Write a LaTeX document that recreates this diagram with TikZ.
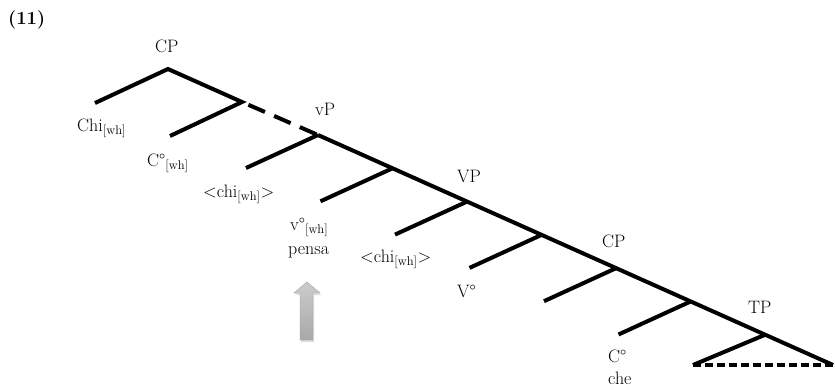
\documentclass[tikz,border=0pt]{standalone}
\usepackage{fontspec}
\usetikzlibrary{shadows}

\begin{document}
\begin{tikzpicture}[x=1pt,y=-1pt,font=\fontsize{18}{20}\selectfont,
	branch/.style={line width=4pt},
	lbl/.style={inner sep=0pt,anchor=base west}]
	\useasboundingbox (0,0) rectangle (835,389);
	\node[lbl,font=\fontsize{18.5}{20}\selectfont\bfseries] (ex) at (8,24) {(11)};

	% upper CP
	\coordinate (cp) at (168,69);
	\coordinate (chi) at (95,103);
	\coordinate (cbar) at (242,102);
	\coordinate (cw) at (170,136);
	\draw[branch] (chi) -- (cp) -- (cbar) -- (cw);

	% spine from vP down to TP
	\foreach \i in {0,...,6} { \coordinate (n\i) at ({318+74.5*\i},{135+33.3*\i}); }
	\foreach \i in {0,...,5} { \coordinate (l\i) at ({318+74.5*\i-72},{135+33.3*\i+33}); }
	\coordinate (tl) at (693,365);
	\coordinate (tr) at (833,365);
	\draw[branch,dash pattern=on 18pt off 10pt,dash phase=21pt] (cbar) -- (n0);
	\draw[branch] (n0) -- (tr);
	\foreach \i in {0,...,5} { \draw[branch] (n\i) -- (l\i); }
	\draw[branch] (n6) -- (tl);
	\draw[branch,dash pattern=on 8pt off 4pt] (tl) -- (tr);

	% labels
	\node[lbl] (cptop) at (155,52) {CP};
	\node[lbl] (chiwh) at (77,131) {Chi\textsubscript{[wh]}};
	\node[lbl] (cwh) at (147,166) {C°\textsubscript{[wh]}};
	\node[lbl] (chia) at (203,197) {<chi\textsubscript{[wh]}>};
	\node[lbl] (vp) at (315,115) {vP};
	\node[lbl] (vwh) at (290,230) {v°\textsubscript{[wh]}};
	\node[lbl] (pensa) at (288,254) {pensa};
	\node[lbl] (chib) at (360,262) {<chi\textsubscript{[wh]}>};
	\node[lbl] (vpbig) at (457,182) {VP};
	\node[lbl] (vhead) at (457,297) {V°};
	\node[lbl] (cplow) at (602,247) {CP};
	\node[lbl] (tp) at (748,313) {TP};
	\node[lbl] (chead) at (608,362) {C°};
	\node[lbl] (che) at (608,384) {che};

	% arrow under pensa
	\path[draw=gray!75,top color=gray!40,bottom color=gray!68,
		drop shadow={opacity=0.25,shadow xshift=1pt,shadow yshift=-2pt}]
		(300,340) -- (300,293) -- (294,293) -- (307,282) -- (320,293) -- (313,293) -- (313,340) -- cycle;
\end{tikzpicture}
\end{document}
